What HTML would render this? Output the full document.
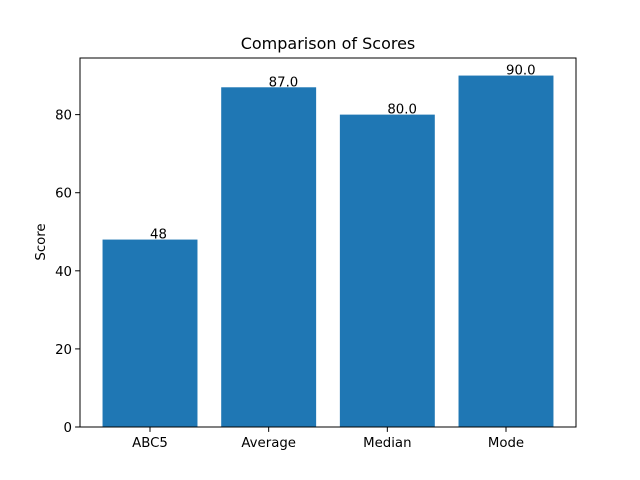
<!DOCTYPE html>
<html><head><meta charset="utf-8"><style>body{margin:0;background:#fff}svg{display:block}text{font-family:"DejaVu Sans","Liberation Sans",sans-serif;fill:#000}</style></head>
<body>
<svg id="chart" width="640" height="480" xmlns="http://www.w3.org/2000/svg">
<rect width="640" height="480" fill="#fff"/>
<text x="328" y="49" font-size="16" text-anchor="middle">Comparison of Scores</text>
<text transform="translate(45,242) rotate(-90)" font-size="13.3" text-anchor="middle">Score</text>
<g id="bars"></g>
<rect x="80" y="58" width="496" height="369" fill="none" stroke="#000" stroke-width="1"/>
<g id="axes"></g>
</svg>
<script>
const categories = ["ABC5","Average","Median","Mode"];
const values = [48, 87, 80, 90];
const valueLabels = ["48","87.0","80.0","90.0"];
const yTicks = [0,20,40,60,80];
const L=80,R=576,T=58,B=427,xmin=-0.59,xmax=3.59,ymax=94.5;
const xs=v=>L+(v-xmin)/(xmax-xmin)*(R-L);
const ys=v=>B-v/ymax*(B-T);
const NS="http://www.w3.org/2000/svg";
const bars=document.getElementById('bars'),axes=document.getElementById('axes');
function mk(tag,attrs,parent){const e=document.createElementNS(NS,tag);for(const k in attrs)e.setAttribute(k,attrs[k]);parent.appendChild(e);return e;}
categories.forEach((c,i)=>{
  const r=mk('rect',{x:xs(i-0.4),y:ys(values[i]),width:xs(i+0.4)-xs(i-0.4),height:B-ys(values[i]),fill:'#1f77b4'},bars);
  
  
  const t=mk('text',{x:xs(i),y:ys(values[i])-1,'font-size':'13.3'},bars);
  t.textContent=valueLabels[i];
  
  
  const tk=mk('line',{x1:xs(i),x2:xs(i),y1:B,y2:B+4.9,stroke:'#000'},axes);
  
  
  const tl=mk('text',{x:xs(i),y:B+20,'font-size':'13.3','text-anchor':'middle'},axes);
  tl.textContent=c;
  
  
});
yTicks.forEach(v=>{
  const tk=mk('line',{x1:L-4.9,x2:L,y1:ys(v),y2:ys(v),stroke:'#000'},axes);
  
  
  const tl=mk('text',{x:L-8,y:ys(v)+5,'font-size':'13.3','text-anchor':'end'},axes);
  tl.textContent=v;
  
  
});
</script>
</body></html>
